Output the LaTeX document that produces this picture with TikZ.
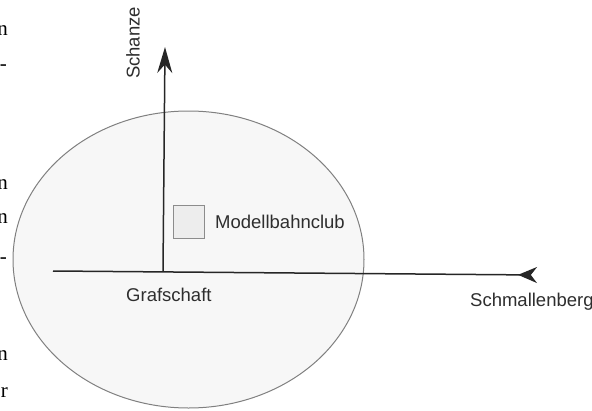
\documentclass[tikz,border=0pt]{standalone}
\usepackage{fontspec}
\setmainfont{Liberation Sans}
\newfontfamily\fragfont{Liberation Serif}
\usetikzlibrary{arrows.meta,shapes.geometric}
\begin{document}
\begin{tikzpicture}[x=1pt,y=-1pt,
  lbl/.style={font=\fontsize{18.5}{22}\selectfont, text=black!82, inner sep=0pt},
  frag/.style={font=\fragfont\fontsize{21}{25}\selectfont, text=black, inner sep=0pt, anchor=base east},
  axisline/.style={line width=1.5pt, draw=black!85}]
\useasboundingbox (0,0) rectangle (592,410);
\fill[white] (0,0) rectangle (592,410);
% area
\node (area) [ellipse, draw=black!50, fill=black!3, line width=1pt, inner sep=0pt,
  minimum width=351, minimum height=297] at (188.5,259.5) {};
% axes
\coordinate (xa) at (53,271);
\coordinate (xb) at (537,275);
\coordinate (ya) at (163,271);
\coordinate (yb) at (165,47);
\draw[axisline, -{Stealth[reversed, length=19pt, width=16pt]}] (xa) -- (xb);
\draw[axisline, -{Stealth[length=26pt, width=15pt]}] (ya) -- (yb);
% club
\node (club) [draw=black!45, fill=black!7, line width=1pt, minimum width=31, minimum height=33, inner sep=0pt] at (188.5,221.5) {};
\node (clubl) [lbl, anchor=west] at (215,222) {Modellbahnclub};
\node (graf) [lbl, anchor=west] at (126,295) {Grafschaft};
\node (schm) [lbl, anchor=west] at (470,302) {Schmallenberg};
\node (schanze) [lbl, rotate=90] at (133,43) {Schanze};
% cut-off text fragments at the left edge
\node (f1) [frag] at (8,35) {n};
\node (f2) [frag] at (7,70) {-};
\node (f3) [frag] at (8,189) {n};
\node (f4) [frag] at (8,223) {n};
\node (f5) [frag] at (7,263) {-};
\node (f6) [frag] at (8,360) {n};
\node (f7) [frag] at (8,397) {r};
\end{tikzpicture}
\end{document}
